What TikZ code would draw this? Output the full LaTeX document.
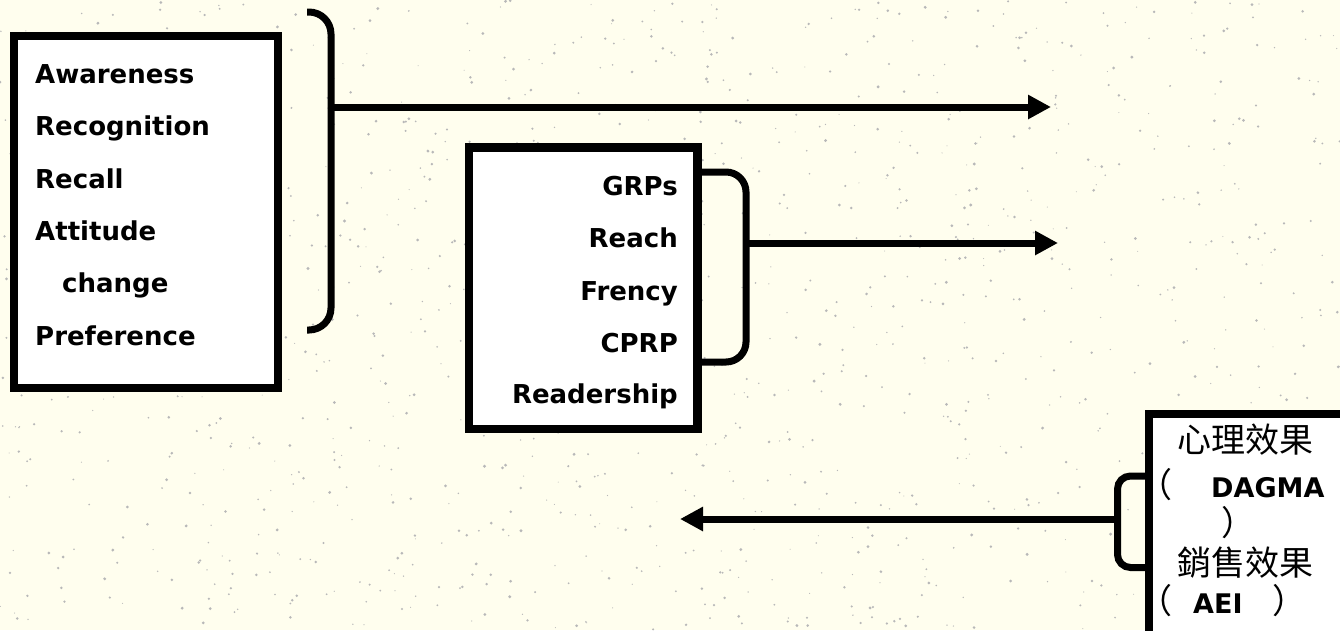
\documentclass[tikz,border=0pt]{standalone}
\usepackage{fontspec}
\setmainfont{DejaVu Sans}
\newfontfamily\cjk{Noto Sans CJK TC}
\usetikzlibrary{arrows.meta}
\definecolor{bgcream}{RGB}{255,254,238}
\tikzset{
  box/.style={draw=black, fill=white, line width=8.5pt, inner sep=0pt},
  brace/.style={draw=black, line width=7pt, line cap=butt},
  conn/.style={draw=black, line width=7pt, -{Triangle[length=23pt,width=23pt]}},
  lbl/.style={inner sep=0pt, font=\fontsize{26}{30}\selectfont\bfseries},
  cjklbl/.style={inner sep=0pt, font=\fontsize{34}{38}\selectfont\cjk},
  speck/.style={fill=black!28}
}
\newcommand{\latinbold}{\fontsize{27}{30}\selectfont\rmfamily\bfseries}
\begin{document}
\begin{tikzpicture}[x=1pt,y=-1pt]
\useasboundingbox (0,0) rectangle (1340,630);
\clip (0,0) rectangle (1340,630);
\fill[bgcream] (0,0) rectangle (1340,630);
\pgfmathsetseed{7}
\foreach \i in {1,...,1300}{
  \pgfmathsetmacro\px{rnd*1340}
  \pgfmathsetmacro\py{rnd*630}
  \pgfmathsetmacro\pr{0.5+rnd*1.1}
  \fill[speck] (\px,\py) circle (\pr pt);
}
% boxes
\node[box, minimum width=264pt, minimum height=352pt] (b1) at (146,212) {};
\node[box, minimum width=228.5pt, minimum height=281.5pt] (b2) at (583.25,288.25) {};
\node[box, minimum width=260pt, minimum height=260pt] (b3) at (1279,544) {};
% box 1 texts
\node[lbl, anchor=base west] (t11) at (35,83) {Awareness};
\node[lbl, anchor=base west] (t12) at (35,135.5) {Recognition};
\node[lbl, anchor=base west] (t13) at (35,188) {Recall};
\node[lbl, anchor=base west] (t14) at (35,240) {Attitude};
\node[lbl, anchor=base west] (t15) at (62,292.5) {change};
\node[lbl, anchor=base west] (t16) at (35,345) {Preference};
% box 2 texts
\node[lbl, anchor=base east] (t21) at (678,195) {GRPs};
\node[lbl, anchor=base east] (t22) at (678,247) {Reach};
\node[lbl, anchor=base east] (t23) at (678,300) {Frency};
\node[lbl, anchor=base east] (t24) at (678,352) {CPRP};
\node[lbl, anchor=base east] (t25) at (678,403) {Readership};
% box 3 texts
\node[cjklbl] (t31) at (1245,440) {心理效果};
\node[cjklbl, anchor=west] (t32) at (1138,485) {（\hspace{39pt}\latinbold DAGMA};
\node[cjklbl] (t33) at (1238,523) {）};
\node[cjklbl] (t34) at (1245,563) {銷售效果};
\node[cjklbl, anchor=west] (t35) at (1138,601) {（\hspace{21pt}{\latinbold AEI}\hspace{30pt}）};
% brackets
\draw[brace, rounded corners=22pt] (307,12) -- (331,12) -- (331,330) -- (307,330);
\draw[brace, rounded corners=20pt] (698,172) -- (746,172) -- (746,362) -- (698,362);
\draw[brace, rounded corners=13pt] (1145,476) -- (1117.5,476) -- (1117.5,567.5) -- (1145,567.5);
% connector end points
\coordinate (c1) at (331,107);
\coordinate (e1) at (1051,107);
\coordinate (c2) at (746,243);
\coordinate (e2) at (1058,243);
\coordinate (c3) at (1117.5,519);
\coordinate (e3) at (680,519);
\draw[conn] (c1) -- (e1);
\draw[conn] (c2) -- (e2);
\draw[conn] (c3) -- (e3);
\end{tikzpicture}
\end{document}
